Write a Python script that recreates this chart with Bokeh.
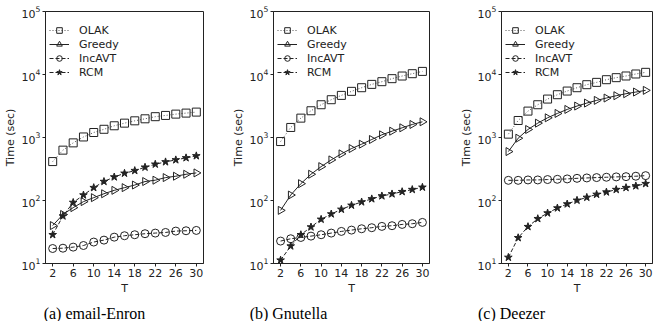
import numpy as np
from bokeh.plotting import figure
from bokeh.layouts import row, column
from bokeh.models import FixedTicker, Range1d
from bokeh.embed import file_html
from bokeh.resources import INLINE
from bokeh.core.properties import value

T = [2, 4, 6, 8, 10, 12, 14, 16, 18, 20, 22, 24, 26, 28, 30]
x_ticks = [2, 6, 10, 14, 18, 22, 26, 30]
y_ticks = [10, 100, 1000, 10000, 100000]

series_names = ["OLAK", "Greedy", "IncAVT", "RCM"]

# (a) email-Enron
enron_olak = [415, 630, 822, 1020, 1200, 1350, 1535, 1690, 1840, 1980, 2140, 2240, 2350, 2440, 2530]
enron_greedy = [40, 60, 77, 96, 111, 128, 145, 160, 176, 200, 210, 231, 243, 261, 274]
enron_incavt = [17.3, 17.5, 18.2, 19.3, 21.9, 23.5, 26.2, 27.6, 28.6, 29.7, 30.4, 31.1, 32.7, 33.1, 33.5]
enron_rcm = [28.6, 56.6, 93, 122, 160, 200, 236, 270, 298, 337, 376, 410, 441, 475, 511]

# (b) Gnutella
gnut_olak = [863, 1443, 2030, 2657, 3311, 3980, 4660, 5400, 6170, 6970, 7690, 8590, 9460, 10300, 11200]
gnut_greedy = [69.7, 122, 185, 261, 345, 441, 550, 668, 783, 930, 1103, 1260, 1425, 1610, 1775]
gnut_incavt = [22.7, 24.7, 25.9, 27.2, 28.6, 30.4, 32.3, 33.9, 35.6, 37, 38.8, 39.8, 41.7, 42.8, 44.9]
gnut_rcm = [11.3, 18.9, 28.6, 37.9, 50.2, 61, 72.3, 83.8, 94.7, 106, 118, 127, 138, 149, 162]

# (c) Deezer
deez_olak = [1130, 1862, 2624, 3311, 4074, 4777, 5460, 6170, 6890, 7500, 8270, 8910, 9470, 10190, 10820]
deez_greedy = [598, 975, 1340, 1690, 2055, 2410, 2790, 3155, 3520, 3880, 4230, 4605, 4955, 5265, 5600]
deez_incavt = [209, 209, 212, 212, 215, 217, 220, 225, 228, 231, 234, 237, 239, 243, 248]
deez_rcm = [12.5, 25.6, 38.4, 51.4, 63.2, 75.9, 87.9, 100.6, 112, 125, 136, 149, 160, 170, 185]

captions = ["(a) email-Enron", "(b) Gnutella", "(c) Deezer"]

FONT = "DejaVu Sans"
FRAME_H = 252


def make_panel(data, frame_w, left, right):
    p = figure(frame_width=frame_w, frame_height=FRAME_H, y_axis_type="log",
               x_range=Range1d(0.6, 31.4), y_range=Range1d(10, 100000),
               toolbar_location=None, output_backend="svg",
               min_border_left=left, min_border_right=right,
               min_border_top=11, min_border_bottom=33)
    p.grid.visible = False
    p.outline_line_color = "#222222"
    p.outline_line_width = 1
    p.background_fill_color = "white"
    p.border_fill_color = "white"

    p.xaxis.ticker = FixedTicker(ticks=x_ticks)
    p.yaxis.ticker = FixedTicker(ticks=y_ticks)
    for ax in (p.xaxis[0], p.yaxis[0]):
        ax.axis_line_color = "#222222"
        ax.major_tick_line_color = "#222222"
        ax.major_tick_in = 0
        ax.major_tick_out = 3
        ax.minor_tick_line_color = None
        ax.major_label_text_font = FONT
        ax.major_label_text_font_size = "11px"
        ax.major_label_text_color = "#222222"
        ax.axis_label_text_font = FONT
        ax.axis_label_text_font_size = "11px"
        ax.axis_label_text_font_style = "normal"
        ax.axis_label_text_color = "#222222"
        ax.major_label_standoff = 2
        ax.axis_label_standoff = 2
    p.xaxis.axis_label = "T"
    p.yaxis.axis_label = "Time (sec)"

    olak, greedy, incavt, rcm = data
    c = "#222222"
    p.line(T, olak, line_color="#555555", line_dash="1 2", line_width=1, legend_label="OLAK")
    p.scatter(T, olak, marker="square", size=8, line_color=c, fill_color=None, line_width=1, legend_label="OLAK")

    p.line(T, greedy, line_color=c, line_width=1, legend_label="Greedy")
    p.scatter(T, greedy, marker="triangle", angle=-np.pi / 2, size=8, line_color=c, fill_color=None, line_width=1, legend_label="Greedy")

    p.line(T, incavt, line_color=c, line_dash="4 2", line_width=1, legend_label="IncAVT")
    p.scatter(T, incavt, marker="circle", size=8, line_color=c, fill_color=None, line_width=1, legend_label="IncAVT")

    p.line(T, rcm, line_color=c, line_dash="4 2", line_width=1, legend_label="RCM")
    p.scatter(T, rcm, marker="star", size=8, line_color=c, fill_color=c, line_width=1, legend_label="RCM")

    lg = p.legend[0]
    lg.border_line_color = None
    lg.background_fill_alpha = 0
    lg.margin = 0
    lg.padding = 2
    lg.spacing = 0
    lg.glyph_width = 20
    lg.glyph_height = 14
    lg.label_height = 14
    lg.label_standoff = 10
    lg.label_text_font = FONT
    lg.label_text_font_size = "11px"
    lg.label_text_color = "#222222"
    legend_h = 4 * 14 + 2 * 2
    lg.location = (4, FRAME_H - 8 - legend_h)
    return p


p1 = make_panel((enron_olak, enron_greedy, enron_incavt, enron_rcm), 158, 39, 25)
p2 = make_panel((gnut_olak, gnut_greedy, gnut_incavt, gnut_rcm), 156, 40, 27)
p3 = make_panel((deez_olak, deez_greedy, deez_incavt, deez_rcm), 151, 40, 2)

cap = figure(width=638, height=24, x_range=Range1d(0, 638), y_range=Range1d(0, 24),
             x_axis_type=None, y_axis_type=None, toolbar_location=None,
             output_backend="svg", min_border=0)
cap.grid.visible = False
cap.outline_line_color = None
cap.text(x=[94, 288, 511], y=[8, 8, 8], text=captions, text_align="center",
         text_baseline="middle", text_font=value("Liberation Serif"),
         text_font_size="16px", text_color="black")

layout = column(row(p1, p2, p3, spacing=0), cap, spacing=0)

with open("out.html", "w") as f:
    f.write(file_html(layout, INLINE))
